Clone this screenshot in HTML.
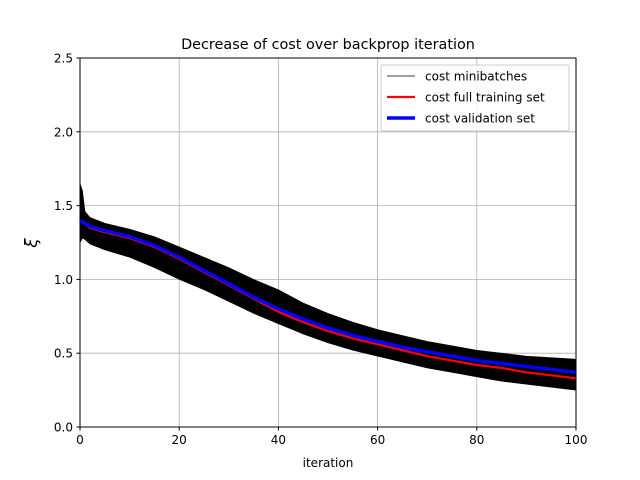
<!DOCTYPE html>
<html><head><meta charset="utf-8"><style>
body{margin:0;background:#fff;}
svg{display:block;font-family:"DejaVu Sans","Liberation Sans",sans-serif;}
</style></head><body>
<svg id="chart" width="640" height="480">
<rect width="640" height="480" fill="#fff"/>
<text x="328" y="49" text-anchor="middle" font-size="14.4">Decrease of cost over backprop iteration</text>
<g id="grid"></g>
<g id="series"></g>
<rect x="80" y="58" width="496" height="369" fill="none" stroke="#000" stroke-width="1"/>
<g id="ticks" font-size="12"></g>
<text x="328" y="467" text-anchor="middle" font-size="12">iteration</text>
<text transform="translate(37,243) rotate(-90)" text-anchor="middle" font-size="17" font-style="italic">ξ</text>
<g>
<rect x="381" y="65" width="188" height="66" fill="#fff" fill-opacity="0.8" stroke="#ccc" rx="2"/>
<line x1="387" y1="76" x2="415" y2="76" stroke="#000" stroke-width="0.7"/>
<text x="425" y="80.5" font-size="12">cost minibatches</text>
<line x1="387" y1="97" x2="415" y2="97" stroke="red" stroke-width="2.2"/>
<text x="425" y="101.5" font-size="12">cost full training set</text>
<line x1="387" y1="118" x2="415" y2="118" stroke="blue" stroke-width="3.5"/>
<text x="425" y="122.5" font-size="12">cost validation set</text>
</g>
</svg>
<script>
const xTicks=[0,20,40,60,80,100];
const yTicks=[0.0,0.5,1.0,1.5,2.0,2.5];
const iters=[0,2,5,10,15,20,25,30,35,40,45,50,55,60,65,70,75,80,85,90,95,100];
const validation=[1.40,1.36,1.33,1.29,1.23,1.15,1.06,0.97,0.88,0.80,0.73,0.67,0.62,0.58,0.54,0.51,0.48,0.45,0.43,0.41,0.39,0.37];
const training=[1.40,1.35,1.32,1.28,1.22,1.14,1.05,0.96,0.87,0.78,0.71,0.65,0.60,0.56,0.52,0.48,0.45,0.42,0.40,0.37,0.35,0.33];
const bandIters=[0,0.5,1,2,5,10,15,20,25,30,35,40,45,50,55,60,65,70,75,80,85,90,95,100];
const bandUpper=[1.65,1.6,1.46,1.42,1.38,1.34,1.29,1.22,1.15,1.08,1.0,0.93,0.84,0.77,0.71,0.66,0.62,0.58,0.55,0.52,0.50,0.48,0.47,0.46];
const bandLower=[1.25,1.28,1.27,1.24,1.20,1.15,1.08,1.00,0.93,0.85,0.77,0.70,0.63,0.57,0.52,0.48,0.44,0.40,0.37,0.34,0.31,0.29,0.27,0.25];
const X0=80,X1=576,Y0=427,Y1=58;
const sx=v=>X0+(v-0)/(100-0)*(X1-X0);
const sy=v=>Y0-(v-0)/(2.5-0)*(Y0-Y1);
const NS="http://www.w3.org/2000/svg";
function mk(t,a,p){const e=document.createElementNS(NS,t);for(const k in a)e.setAttribute(k,a[k]);p.appendChild(e);return e;}
const grid=document.getElementById('grid'),ticks=document.getElementById('ticks'),ser=document.getElementById('series');
xTicks.forEach(v=>{
 const l=mk('line',{x1:sx(v),x2:sx(v),y1:Y1,y2:Y0,stroke:'#b0b0b0','stroke-width':0.8},grid);
 
 
 const t=mk('line',{x1:sx(v),x2:sx(v),y1:Y0,y2:Y0+3.5,stroke:'#000'},ticks);
 
 
 const tx=mk('text',{x:sx(v),y:Y0+17,'text-anchor':'middle'},ticks);tx.textContent=v;
 
 
});
yTicks.forEach(v=>{
 const l=mk('line',{x1:X0,x2:X1,y1:sy(v),y2:sy(v),stroke:'#b0b0b0','stroke-width':0.8},grid);
 
 
 const t=mk('line',{x1:X0-3.5,x2:X0,y1:sy(v),y2:sy(v),stroke:'#000'},ticks);
 
 
 const tx=mk('text',{x:X0-7,y:sy(v)+4.5,'text-anchor':'end'},ticks);tx.textContent=v.toFixed(1);
 
 
});
let pts=bandIters.map((v,i)=>sx(v)+','+sy(bandUpper[i]));
pts=pts.concat(bandIters.map((v,i)=>sx(v)+','+sy(bandLower[i])).reverse());
const band=mk('polygon',{points:pts.join(' '),fill:'#000',stroke:'#000','stroke-width':0.6},ser);


const tr=mk('polyline',{points:iters.map((v,i)=>sx(v)+','+sy(training[i])).join(' '),fill:'none',stroke:'red','stroke-width':2.2},ser);


const va=mk('polyline',{points:iters.map((v,i)=>sx(v)+','+sy(validation[i])).join(' '),fill:'none',stroke:'blue','stroke-width':3.5},ser);


</script>
</body></html>
